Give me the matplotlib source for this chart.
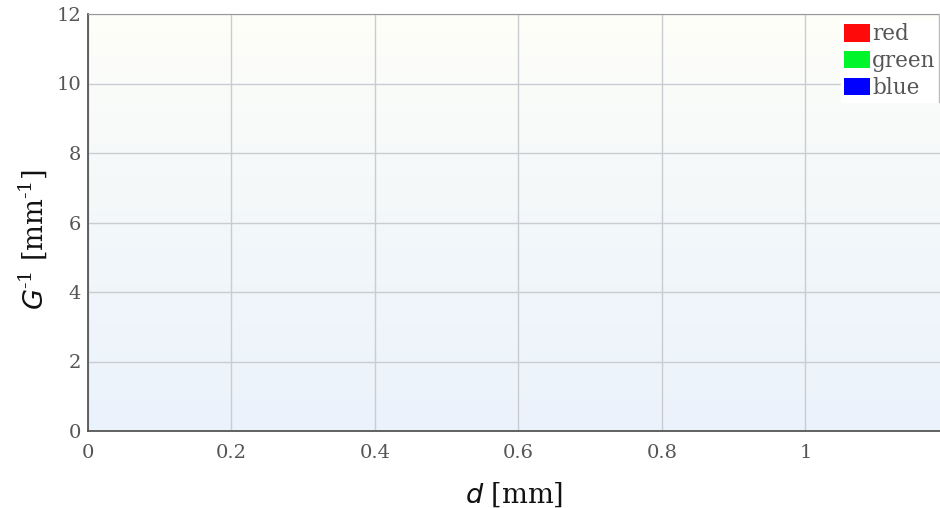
import numpy as np
import matplotlib.pyplot as plt
from matplotlib.patches import Patch
from matplotlib.ticker import FuncFormatter, MultipleLocator

# series shown in the legend (the chart holds no data points)
series_names = ['red', 'green', 'blue']
series_colors = ['#ff0a0a', '#00f52a', '#0000ff']
d_values = {'red': [], 'green': [], 'blue': []}
g_values = {'red': [], 'green': [], 'blue': []}

x_max = 1.1875
y_max = 12

plt.rcParams['font.family'] = 'DejaVu Serif'
plt.rcParams['mathtext.fontset'] = 'dejavusans'

fig = plt.figure(figsize=(9.4, 5.08), dpi=100)
ax = fig.add_axes([88 / 940, 77 / 508, 1 - 88 / 940, (431 - 14) / 508])

# soft vertical gradient background
grad = np.linspace(0, 1, 256).reshape(-1, 1)
top = np.array([1.0, 1.0, 0.975])
bottom = np.array([0.92, 0.95, 0.985])
img = top + (bottom - top) * (grad ** 0.8)[:, :, None]
ax.imshow(img, extent=[0, x_max, 0, y_max], aspect='auto', origin='upper', zorder=0)

for name, color in zip(series_names, series_colors):
    ax.plot(d_values[name], g_values[name], color=color)

ax.set_xlim(0, x_max)
ax.set_ylim(0, y_max)
ax.xaxis.set_major_locator(MultipleLocator(0.2))
ax.yaxis.set_major_locator(MultipleLocator(2))
ax.xaxis.set_major_formatter(FuncFormatter(lambda v, p: '%g' % round(v, 2)))
ax.grid(True, color='#c9ccd0', linewidth=1)
ax.tick_params(length=0, labelsize=14, labelcolor='#555555')
ax.tick_params(axis='x', pad=9)
ax.tick_params(axis='y', pad=5)

for s in ['left', 'bottom']:
    ax.spines[s].set_color('#555555')
    ax.spines[s].set_linewidth(1.3)
ax.spines['top'].set_color('#999999')
ax.spines['right'].set_visible(False)

ax.set_xlabel('$d$ [mm]', fontsize=19.5, color='#111111', labelpad=14)
ax.set_ylabel('$G$$^{\\mathregular{\u20101}}$ [mm$^{\\mathregular{\u20101}}$]',
              fontsize=19.5, color='#111111')
ax.yaxis.set_label_coords(-0.046, 0.46)

handles = [Patch(facecolor=c, label=n) for n, c in zip(series_names, series_colors)]
leg = ax.legend(handles=handles, loc='upper right', bbox_to_anchor=(0.9985, 0.985),
                frameon=True, fancybox=False, handlelength=1.2, handleheight=0.85,
                handletextpad=0.1, labelspacing=0.22, borderpad=0.15, borderaxespad=0,
                fontsize=15.5)
leg.get_frame().set_facecolor('white')
leg.get_frame().set_edgecolor('white')
leg.get_frame().set_alpha(1)
for t in leg.get_texts():
    t.set_color('#555555')
ax.plot([0.9985, 0.9985], [0.79, 1.0], transform=ax.transAxes,
        color='#bbbbbb', linewidth=1, clip_on=False, zorder=6)

fig.savefig('out.png', dpi=100)
